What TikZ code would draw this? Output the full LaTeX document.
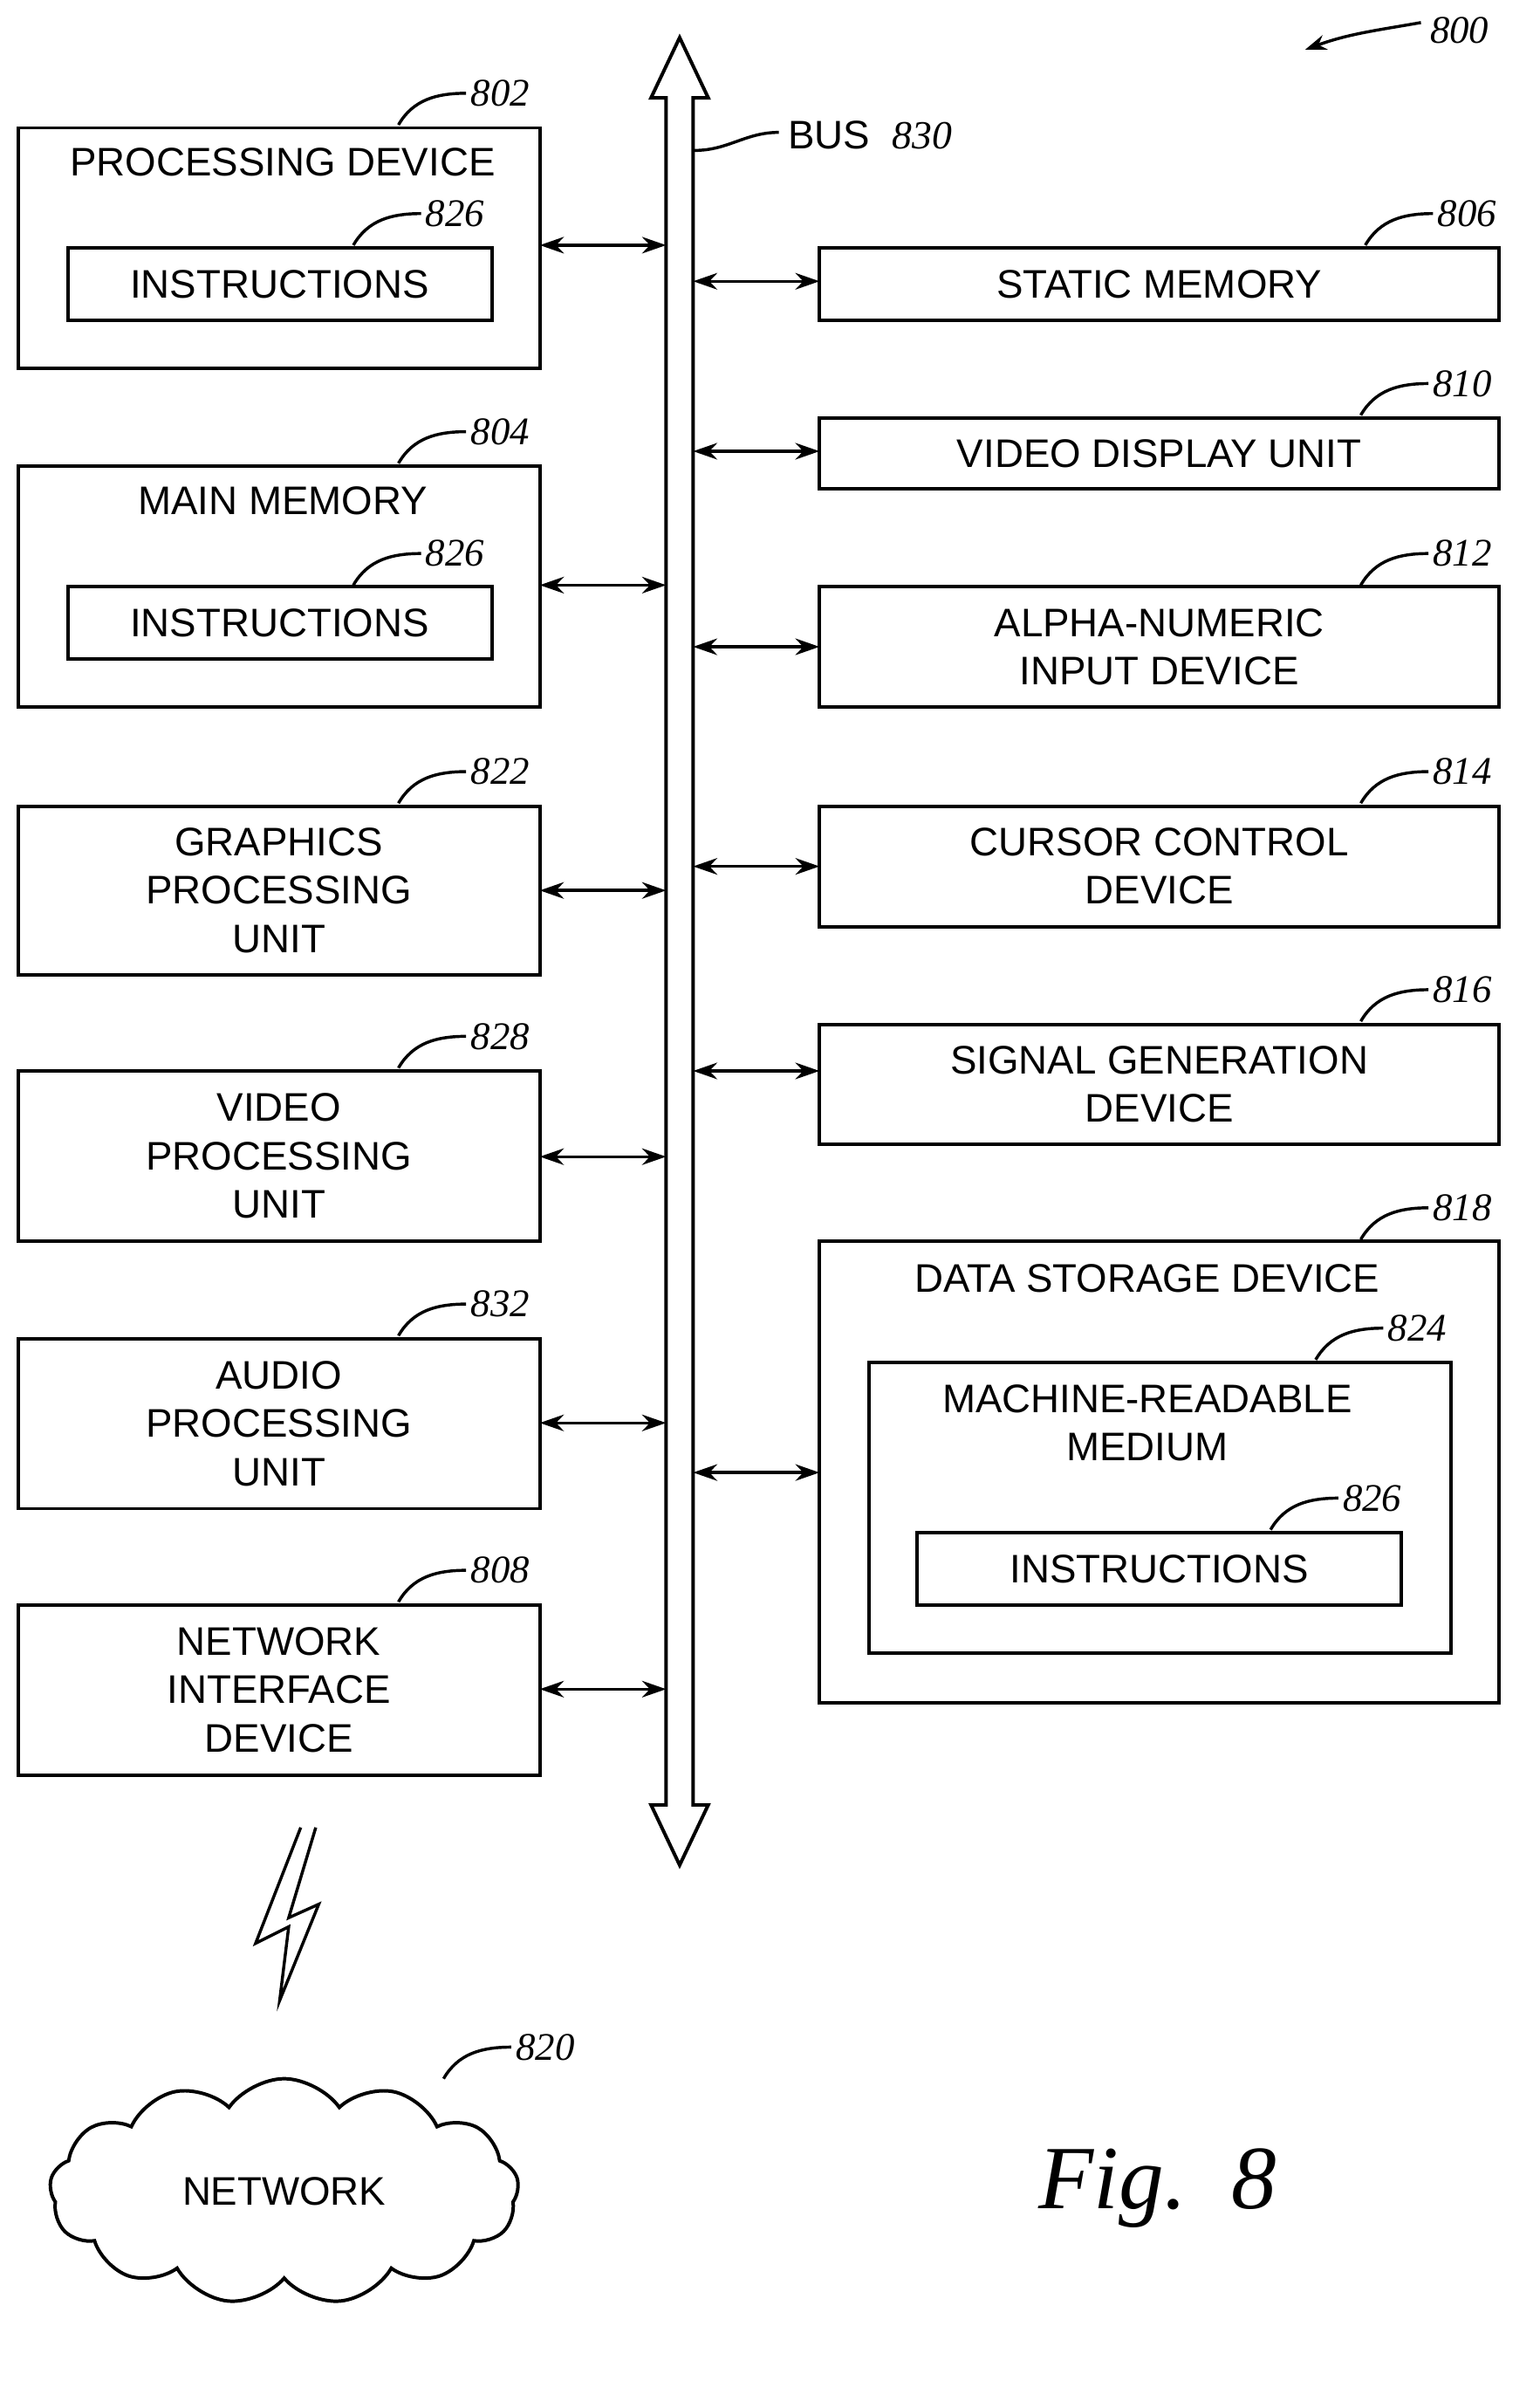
\documentclass[tikz,border=0pt]{standalone}
\usepackage{fontspec}
\setmainfont{Liberation Sans}
\newfontfamily\numfont{Liberation Serif}
\usetikzlibrary{arrows.meta,shapes.symbols}
\begin{document}
\begin{tikzpicture}[x=1pt,y=-1pt,line width=2.3pt,
  box/.style={draw,rectangle,inner sep=0pt},
  txt/.style={font=\fontsize{26.5}{32}\selectfont,align=center,inner sep=0pt},
  num/.style={font=\fontsize{26}{30}\selectfont\numfont\itshape,inner sep=0pt,anchor=west},
  lead/.style={line width=2pt},
  conn/.style={{Stealth[length=16pt,width=11pt]}-{Stealth[length=16pt,width=11pt]},line width=2pt}]
\useasboundingbox (0,0) rectangle (1024,1583);
% bus
\draw[line width=2.3pt] (452,25) -- (471,65) -- (461,65) -- (461,1200) -- (471,1200) -- (452,1240) -- (433,1200) -- (443,1200) -- (443,65) -- (433,65) -- cycle;
\node[num,anchor=west] (busl) at (523,90) {\normalfont\fontsize{26.5}{30}\selectfont BUS\ \ \numfont\itshape 830};
\draw[lead] (462,100) to[out=0,in=180] (518,88);
% left boxes
\node[box,minimum width=347,minimum height=160] (b802) at (185.5,165) {};
\node[txt] (t802) at (188,108) {PROCESSING DEVICE};
\node[box,minimum width=282,minimum height=48,txt] (i802) at (186,189) {INSTRUCTIONS};
\node[box,minimum width=347,minimum height=160] (b804) at (185.5,390) {};
\node[txt] (t804) at (188,333) {MAIN MEMORY};
\node[box,minimum width=282,minimum height=48,txt] (i804) at (186,414) {INSTRUCTIONS};
\node[box,minimum width=347,minimum height=112,txt] (b822) at (185.5,592) {GRAPHICS\\PROCESSING\\UNIT};
\node[box,minimum width=347,minimum height=113,txt] (b828) at (185.5,768.5) {VIDEO\\PROCESSING\\UNIT};
\node[box,minimum width=347,minimum height=113,txt] (b832) at (185.5,946.5) {AUDIO\\PROCESSING\\UNIT};
\node[box,minimum width=347,minimum height=113,txt] (b808) at (185.5,1123.5) {NETWORK\\INTERFACE\\DEVICE};
\foreach \y in {163,389,592,769,946,1123}
  \draw[conn] (359,\y) -- (443,\y);
% right boxes
\node[box,minimum width=452,minimum height=48,txt] (b806) at (771,189) {STATIC MEMORY};
\node[box,minimum width=452,minimum height=47,txt] (b810) at (771,301.5) {VIDEO DISPLAY UNIT};
\node[box,minimum width=452,minimum height=80,txt] (b812) at (771,430) {ALPHA-NUMERIC\\INPUT DEVICE};
\node[box,minimum width=452,minimum height=80,txt] (b814) at (771,576) {CURSOR CONTROL\\DEVICE};
\node[box,minimum width=452,minimum height=80,txt] (b816) at (771,721) {SIGNAL GENERATION\\DEVICE};
\node[box,minimum width=452,minimum height=307] (b818) at (771,978.5) {};
\node[txt] (t818) at (763,850) {DATA STORAGE DEVICE};
\node[box,minimum width=387,minimum height=193] (b824) at (771.5,1002.5) {};
\node[txt] (t824) at (763,946) {MACHINE-READABLE\\MEDIUM};
\node[box,minimum width=322,minimum height=48,txt] (i818) at (771,1043) {INSTRUCTIONS};
\foreach \y in {187,300,430,576,712,979}
  \draw[conn] (461,\y) -- (545,\y);
% reference labels
\foreach \x/\y/\t in {265/83/802,235/163/826,265/308/804,235/389/826,265/534/822,265/710/828,265/888/832,265/1065/808,
  908/163/806,905/276/810,905/389/812,905/534/814,905/679/816,905/824/818,875/904/824,845/1017/826,295/1382/820}{
  \draw[lead] (\x,\y) to[out=60,in=180] (\x+45,\y-21);
  \node[num] (n\t) at (\x+47,\y-21) {\t};}
\node[num] (n800) at (950,20) {800};
\draw[lead,-{Stealth[length=14pt,width=10pt]}] (945,15) to[out=190,in=20] (868,33);
% lightning
\draw[line width=2pt,line join=miter] (200,1215) -- (170,1292) -- (192,1281) -- (186,1330) -- (212,1266) -- (192,1275) -- (210,1215);
% cloud
\node[cloud,draw,cloud puffs=13,cloud puff arc=110,aspect=2.1,minimum width=312,minimum height=150,txt] (net) at (189,1457) {NETWORK};
\node[font=\fontsize{60}{62}\selectfont\numfont\itshape,inner sep=0pt] (fig) at (770,1455) {Fig.\ \ 8};
\end{tikzpicture}
\end{document}
